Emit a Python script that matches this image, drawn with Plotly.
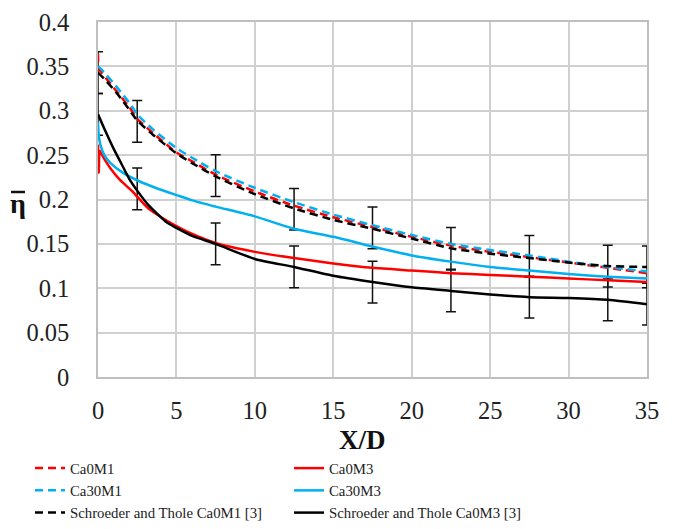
import plotly.graph_objects as go

# ---- data ----
x_ca0m1 = [0, 0.05, 0.2, 0.5, 1, 1.5, 2, 2.5, 3.5, 5, 6, 7.5, 10, 12.5, 15, 17.5, 20, 22.5, 25, 27.5, 30, 32.5, 35]
y_ca0m1 = [0.364, 0.347, 0.344, 0.337, 0.326, 0.315, 0.304, 0.291, 0.275, 0.253, 0.243, 0.228, 0.209, 0.193, 0.180, 0.169, 0.158, 0.148, 0.141, 0.135, 0.129, 0.123, 0.117]

x_ca30m1 = [0, 0.2, 0.5, 1, 1.5, 2, 2.5, 3.5, 5, 6, 7.5, 10, 12.5, 15, 17.5, 20, 22.5, 25, 27.5, 30, 32.5, 35]
y_ca30m1 = [0.350, 0.347, 0.341, 0.331, 0.320, 0.309, 0.296, 0.279, 0.258, 0.247, 0.232, 0.213, 0.197, 0.183, 0.171, 0.160, 0.150, 0.143, 0.137, 0.130, 0.124, 0.119]

x_ca0m3 = [0, 0.05, 0.1, 0.2, 0.5, 0.8, 1.4, 2.2, 3.2, 4.4, 5, 5.9, 7.5, 10, 12.5, 15, 17.5, 20, 22.5, 25, 27.5, 30, 32.5, 35]
y_ca0m3 = [0.262, 0.230, 0.255, 0.252, 0.243, 0.235, 0.222, 0.209, 0.190, 0.176, 0.170, 0.162, 0.151, 0.141, 0.134, 0.128, 0.123, 0.120, 0.117, 0.115, 0.113, 0.111, 0.109, 0.107]

x_ca30m3 = [0, 0.05, 0.15, 0.4, 0.8, 1.6, 2.7, 3.7, 5, 6, 7.5, 10, 12.5, 15, 17.5, 20, 22.5, 25, 27.5, 30, 32.5, 35]
y_ca30m3 = [0.287, 0.272, 0.262, 0.250, 0.241, 0.230, 0.220, 0.213, 0.205, 0.199, 0.192, 0.181, 0.167, 0.158, 0.147, 0.137, 0.130, 0.124, 0.120, 0.116, 0.113, 0.111]

x_st_m1 = [0, 0.5, 1, 1.5, 2, 2.5, 3.5, 5, 6, 7.5, 10, 12.5, 15, 17.5, 20, 22.5, 25, 27.5, 30, 32.5, 35]
y_st_m1 = [0.343, 0.334, 0.324, 0.313, 0.301, 0.289, 0.273, 0.252, 0.241, 0.226, 0.206, 0.190, 0.177, 0.167, 0.156, 0.145, 0.139, 0.134, 0.129, 0.125, 0.124]

x_st_m3 = [0, 0.5, 1, 1.5, 2, 2.5, 3.2, 4.4, 5, 6, 7.5, 10, 12.5, 15, 17.5, 20, 22.5, 25, 27.5, 30, 32.5, 35]
y_st_m3 = [0.296, 0.276, 0.257, 0.240, 0.223, 0.210, 0.194, 0.174, 0.168, 0.159, 0.150, 0.133, 0.124, 0.114, 0.107, 0.101, 0.097, 0.093, 0.090, 0.089, 0.087, 0.082]

# error-bar points (Schroeder and Thole)
x_err = [0, 2.5, 7.5, 12.5, 17.5, 22.5, 27.5, 32.5, 35]
y_err_m1 = [0.343, 0.288, 0.227, 0.189, 0.168, 0.145, 0.136, 0.125, 0.124]
y_err_m3 = [0.296, 0.212, 0.150, 0.124, 0.107, 0.097, 0.090, 0.087, 0.082]
err_half = [0.0235] * len(x_err)

x_ticks = [0, 5, 10, 15, 20, 25, 30, 35]
y_ticks = [0, 0.05, 0.1, 0.15, 0.2, 0.25, 0.3, 0.35, 0.4]
y_ticktext = ["0", "0.05", "0.1", "0.15", "0.2", "0.25", "0.3", "0.35", "0.4"]

RED = "#FF0000"
BLUE = "#00B0F0"
BLACK = "#000000"
DASH = "8px,5px"
FONT = "'Liberation Serif', 'Times New Roman', Times, serif"

# plot area in pixels
L, R, T, B = 98, 28, 22, 152
W, H = 675, 529
PW, PH = W - L - R, H - T - B
px = lambda p: (p - L) / PW
py = lambda p: (H - B - p) / PH

fig = go.Figure()

for ye in (y_err_m1, y_err_m3):
    fig.add_trace(go.Scatter(
        x=x_err, y=ye, mode="markers",
        marker=dict(size=1, color="rgba(0,0,0,0)"),
        error_y=dict(type="data", array=err_half, visible=True,
                     color="#111111", thickness=1.5, width=5),
        showlegend=False, hoverinfo="skip"))

series = [
    ("Ca0M1", x_ca0m1, y_ca0m1, RED, DASH),
    ("Ca0M3", x_ca0m3, y_ca0m3, RED, "solid"),
    ("Ca30M1", x_ca30m1, y_ca30m1, BLUE, DASH),
    ("Ca30M3", x_ca30m3, y_ca30m3, BLUE, "solid"),
    ("Schroeder and Thole Ca0M1 [3]", x_st_m1, y_st_m1, BLACK, DASH),
    ("Schroeder and Thole Ca0M3 [3]", x_st_m3, y_st_m3, BLACK, "solid"),
]
for name, xs, ys, col, dash in series:
    fig.add_trace(go.Scatter(
        x=xs, y=ys, mode="lines", name=name,
        line=dict(color=col, width=2.5, dash=dash, shape="spline", smoothing=0.6)))

fig.update_layout(
    width=W, height=H,
    margin=dict(l=L, r=R, t=T, b=B, autoexpand=False),
    paper_bgcolor="white", plot_bgcolor="white",
    font=dict(family=FONT, color="#222222"),
    showlegend=True,
    legend=dict(
        orientation="h", x=px(30), y=py(452), xanchor="left", yanchor="top",
        entrywidth=214, entrywidthmode="pixels",
        font=dict(family=FONT, size=14.8, color="#222222"),
        bgcolor="rgba(0,0,0,0)", tracegroupgap=0,
    ),
    annotations=[
        dict(text="<b>X/D</b>", xref="paper", yref="paper",
             x=px(362), y=py(440), xanchor="center", yanchor="middle",
             showarrow=False, font=dict(family=FONT, size=27, color="#111111")),
        dict(text="<b>\u03b7</b>", xref="paper", yref="paper",
             x=px(18), y=py(203), xanchor="center", yanchor="middle",
             showarrow=False, font=dict(family=FONT, size=28, color="#111111")),
    ],
    shapes=[
        dict(type="line", xref="paper", yref="paper",
             x0=px(11), x1=px(25), y0=py(192), y1=py(192),
             line=dict(color="#111111", width=2.5)),
    ],
)
fig.update_xaxes(
    range=[0, 35], tickvals=x_ticks, ticks="", showgrid=True,
    gridcolor="#D0D0D0", gridwidth=1.5, zeroline=False,
    showline=True, linecolor="#BFBFBF", linewidth=1.5, mirror=True,
    tickfont=dict(family=FONT, size=24.5, color="#222222"), ticklabelstandoff=11,
)
fig.update_yaxes(
    range=[0, 0.4], tickvals=y_ticks, ticktext=y_ticktext, ticks="", showgrid=True,
    gridcolor="#D0D0D0", gridwidth=1.5, zeroline=False,
    showline=True, linecolor="#BFBFBF", linewidth=1.5, mirror=True,
    tickfont=dict(family=FONT, size=24.5, color="#222222"), ticklabelstandoff=22,
)

fig.write_html("out.html")
